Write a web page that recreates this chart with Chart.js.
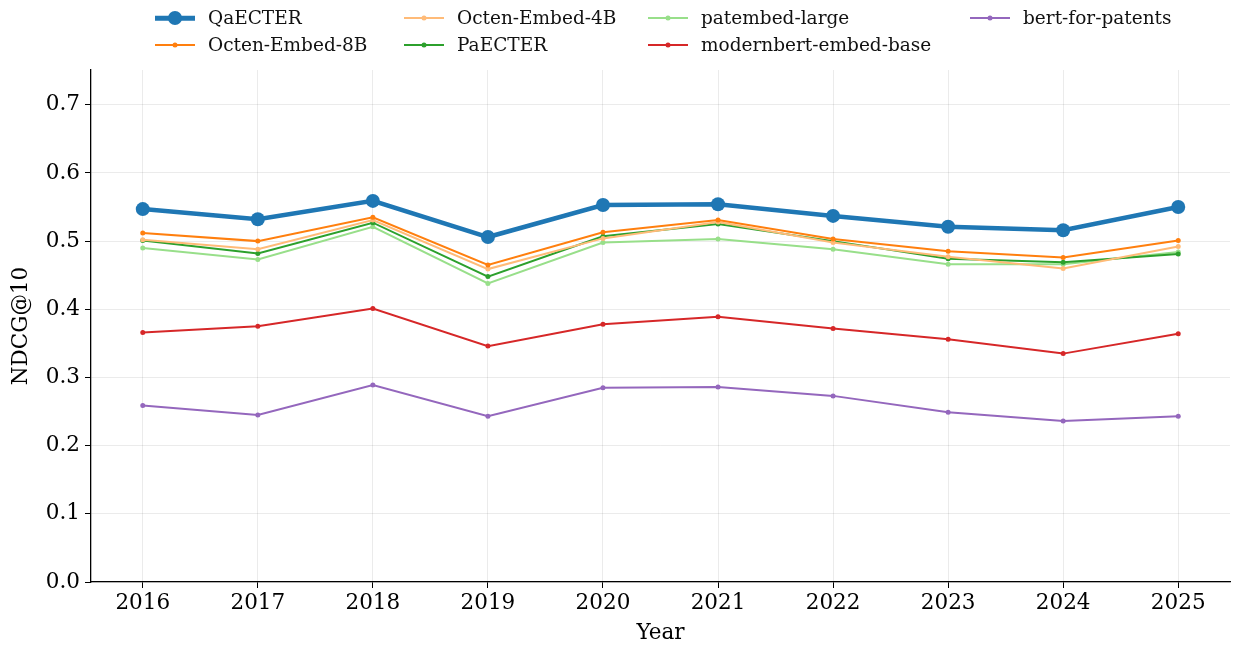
<!DOCTYPE html>
<html lang="en">
<head>
<meta charset="UTF-8">
<title>NDCG@10 by year</title>
<script src="https://cdn.jsdelivr.net/npm/chart.js"></script>
<style>
  body { margin: 0; background: #fff; font-family: "DejaVu Serif", serif; }
  .wrap { position: relative; width: 1233px; height: 646px; }
  .wrap canvas { position: absolute; left: 0; top: 0; }
  .item { position: absolute; height: 24px; line-height: 24px; display: flex; align-items: center;
          font-size: 18.5px; color: #111; white-space: nowrap; }
  .swatch { position: relative; width: 40px; height: 16px; margin-right: 13px; }
  .swatch .ln { position: absolute; left: 0; right: 0; top: 50%; transform: translateY(-50%); }
  .swatch .dot { position: absolute; left: 50%; top: 50%; border-radius: 50%; transform: translate(-50%, -50%); }
</style>
</head>
<body>
<div class="wrap">
  <canvas id="chart" width="1233" height="646"></canvas>
  <div id="legend"></div>
</div>
<script>
  const years = [2016, 2017, 2018, 2019, 2020, 2021, 2022, 2023, 2024, 2025];
  const yTicks = [0.0, 0.1, 0.2, 0.3, 0.4, 0.5, 0.6, 0.7];

  const qaecter    = [0.547, 0.532, 0.559, 0.506, 0.553, 0.554, 0.537, 0.521, 0.516, 0.550];
  const octen8b    = [0.512, 0.500, 0.535, 0.465, 0.513, 0.531, 0.503, 0.485, 0.476, 0.501];
  const octen4b    = [0.502, 0.488, 0.531, 0.459, 0.504, 0.528, 0.498, 0.477, 0.460, 0.492];
  const paecter    = [0.501, 0.482, 0.527, 0.448, 0.507, 0.525, 0.500, 0.474, 0.469, 0.481];
  const patembed   = [0.490, 0.473, 0.521, 0.438, 0.498, 0.503, 0.488, 0.466, 0.466, 0.484];
  const modernbert = [0.366, 0.375, 0.401, 0.346, 0.378, 0.389, 0.372, 0.356, 0.335, 0.364];
  const bertPat    = [0.259, 0.245, 0.289, 0.243, 0.285, 0.286, 0.273, 0.249, 0.236, 0.243];

  // legend slots follow a 4-column grid, filled column by column
  const series = [
    { label: 'QaECTER',               data: qaecter,    color: '#1f77b4', lw: 4.5, r: 7,   col: 0, row: 0 },
    { label: 'Octen-Embed-8B',        data: octen8b,    color: '#ff7f0e', lw: 2,   r: 2.5, col: 0, row: 1 },
    { label: 'Octen-Embed-4B',        data: octen4b,    color: '#ffbb78', lw: 2,   r: 2.5, col: 1, row: 0 },
    { label: 'PaECTER',               data: paecter,    color: '#2ca02c', lw: 2,   r: 2.5, col: 1, row: 1 },
    { label: 'patembed-large',        data: patembed,   color: '#98df8a', lw: 2,   r: 2.5, col: 2, row: 0 },
    { label: 'modernbert-embed-base', data: modernbert, color: '#d62728', lw: 2,   r: 2.5, col: 2, row: 1 },
    { label: 'bert-for-patents',      data: bertPat,    color: '#9467bd', lw: 2,   r: 2.5, col: 3, row: 0 }
  ];

  const colX = [155, 404, 648, 970];
  const rowY = [18, 45];
  const legend = document.getElementById('legend');
  series.forEach(s => {
    const el = document.createElement('div');
    el.className = 'item';
    el.style.left = colX[s.col] + 'px';
    el.style.top = (rowY[s.row] - 12) + 'px';
    el.innerHTML = `<span class="swatch">
        <span class="ln" style="height:${s.lw}px;background:${s.color}"></span>
        <span class="dot" style="width:${s.r * 2}px;height:${s.r * 2}px;background:${s.color}"></span>
      </span><span>${s.label}</span>`;
    legend.appendChild(el);
  });

  const font = { family: '"DejaVu Serif", serif', size: 21.5 };
  const gridColor = 'rgba(0,0,0,0.08)';

  new Chart(document.getElementById('chart'), {
    type: 'line',
    data: {
      datasets: series.map(s => ({
        label: s.label,
        data: years.map((y, i) => ({ x: y, y: s.data[i] })),
        borderColor: s.color,
        backgroundColor: s.color,
        borderWidth: s.lw,
        pointRadius: s.r,
        pointBorderWidth: 0,
        pointHoverRadius: s.r,
        tension: 0
      }))
    },
    options: {
      responsive: false,
      animation: false,
      // big markers would otherwise push the plot area inwards
      layout: { autoPadding: false, padding: { top: 70, right: 3, left: 0, bottom: 0 } },
      plugins: { legend: { display: false }, tooltip: { enabled: false } },
      scales: {
        x: {
          type: 'linear',
          min: 2015.55,
          max: 2025.45,
          afterBuildTicks: sc => { sc.ticks = years.map(v => ({ value: v })); },
          afterFit: sc => { sc.height = 64; sc.paddingLeft = 0; sc.paddingRight = 0; },
          ticks: { font, color: '#000', padding: 3, callback: v => String(v) },
          grid: { color: gridColor, tickColor: '#000', tickLength: 6, lineWidth: 1 },
          border: { color: '#000', width: 1.3 },
          title: { display: true, text: 'Year', font, color: '#000', padding: { top: 0, bottom: 0 } }
        },
        y: {
          min: 0,
          max: 0.751,
          afterBuildTicks: sc => { sc.ticks = yTicks.map(v => ({ value: v })); },
          afterFit: sc => { sc.width = 91; },
          ticks: { font, color: '#000', padding: 5, callback: v => v.toFixed(1) },
          grid: { color: gridColor, tickColor: '#000', tickLength: 6, lineWidth: 1 },
          border: { color: '#000', width: 1.3 },
          title: { display: true, text: 'NDCG@10', font, color: '#000', padding: { top: 9, bottom: 0 } }
        }
      }
    }
  });
</script>
</body>
</html>
